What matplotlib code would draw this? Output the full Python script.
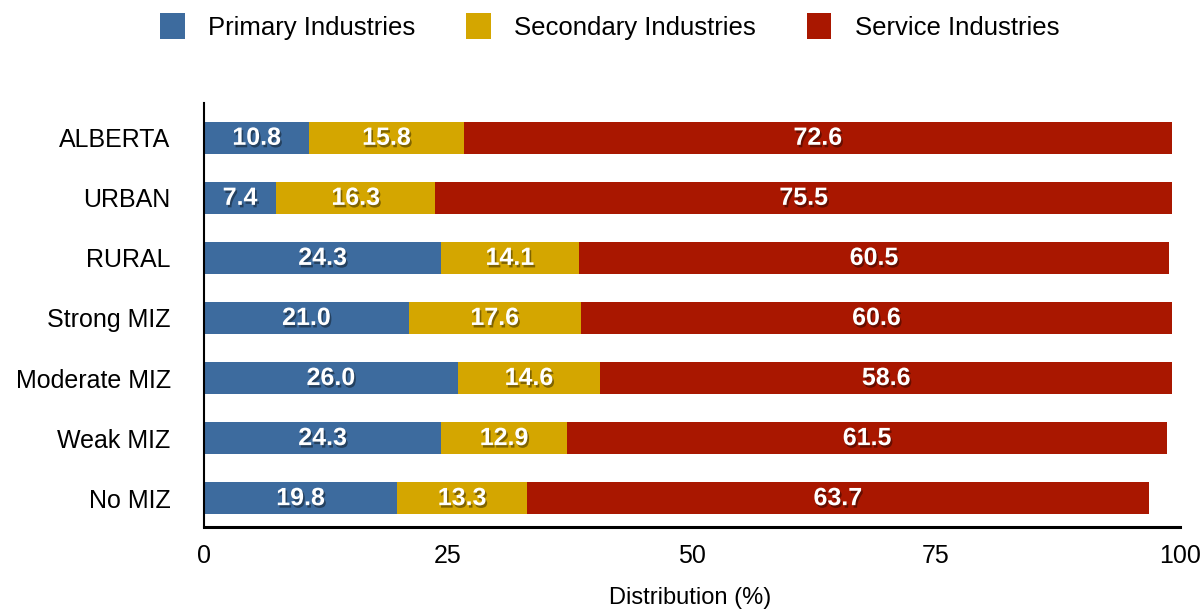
import matplotlib
matplotlib.use("Agg")
import matplotlib.pyplot as plt
import matplotlib.patheffects as pe
import numpy as np

# Data
regions = ["ALBERTA", "URBAN", "RURAL", "Strong MIZ", "Moderate MIZ", "Weak MIZ", "No MIZ"]
primary = [10.8, 7.4, 24.3, 21.0, 26.0, 24.3, 19.8]
secondary = [15.8, 16.3, 14.1, 17.6, 14.6, 12.9, 13.3]
service = [72.6, 75.5, 60.5, 60.6, 58.6, 61.5, 63.7]
series_names = ["Primary Industries", "Secondary Industries", "Service Industries"]
colors = ["#3D6B9E", "#D4A600", "#A91700"]

plt.rcParams['font.family'] = ['Liberation Sans', 'DejaVu Sans']

fig = plt.figure(figsize=(12, 6.11), dpi=100)
ax = fig.add_axes([0.17, 0.1375, 0.8133, 0.694])

y = np.arange(len(regions))
left = np.zeros(len(regions))
shadow = [pe.withSimplePatchShadow(offset=(1.2, -1.8), shadow_rgbFace='black', alpha=0.4)]
for vals, name, col in zip([primary, secondary, service], series_names, colors):
    vals = np.array(vals)
    ax.barh(y, vals, left=left, height=0.53, color=col, label=name)
    for yi, l, v in zip(y, left, vals):
        ax.text(l + v / 2, yi, f"{v:.1f}", ha='center', va='center', color='white',
                fontsize=18, fontweight='bold', path_effects=shadow)
    left += vals

ax.set_xlim(0, 100)
ax.set_ylim(6.48, -0.58)
ax.set_yticks(y)
ax.set_yticklabels(regions, fontsize=18)
ax.set_xticks([0, 25, 50, 75, 100])
ax.tick_params(axis='both', length=0, labelsize=18)
ax.tick_params(axis='x', pad=12)
ax.tick_params(axis='y', pad=24)
for s in ['top', 'right']:
    ax.spines[s].set_visible(False)
ax.spines['left'].set_linewidth(1.5)
ax.spines['bottom'].set_linewidth(2.2)
fig.text(0.575, 1 - 598 / 611, "Distribution (%)", fontsize=17, ha='center', va='center')

fig.legend(loc='upper center', bbox_to_anchor=(0.508, 1.016), ncol=3, frameon=False,
           fontsize=18.5, handlelength=0.95, handleheight=1.15, columnspacing=2.0, handletextpad=0.9)

fig.savefig("out.png", dpi=100)
